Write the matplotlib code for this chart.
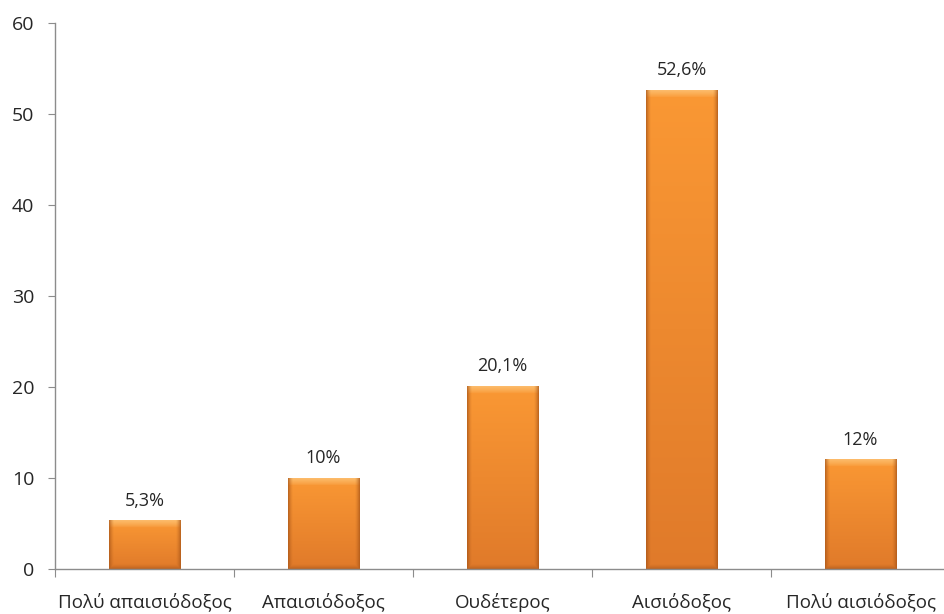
import numpy as np
import matplotlib
matplotlib.use("Agg")
import matplotlib.pyplot as plt

categories = ["Πολύ απαισιόδοξος", "Απαισιόδοξος", "Ουδέτερος", "Αισιόδοξος", "Πολύ αισιόδοξος"]
values = [5.3, 10, 20.1, 52.6, 12]
labels = ["5,3%", "10%", "20,1%", "52,6%", "12%"]

plt.rcParams["font.family"] = ["Open Sans", "DejaVu Sans"]

AXIS_GREY = "#8c8c8c"
TEXT = "#262626"
TOP = np.array([0xfa, 0x98, 0x34]) / 255
BOTTOM = np.array([0xe0, 0x7a, 0x2a]) / 255
HIGHLIGHT = np.array([0xfd, 0xca, 0x80]) / 255
SHADOW = np.array([0xa8, 0x55, 0x18]) / 255


def bar_image(h_px, w_px, bevel=7):
    """Vertical gradient with a simple bevel: light top edge, dark sides and bottom."""
    h_px = max(int(h_px), 2 * bevel + 2)
    t = np.linspace(0, 1, h_px)[:, None, None]
    img = TOP * (1 - t) + BOTTOM * t
    img = np.repeat(img, w_px, axis=1)
    ys = np.arange(h_px)[:, None]
    xs = np.arange(w_px)[None, :]
    top_w = np.clip(1 - ys / bevel, 0, 1) ** 0.8
    side = np.minimum(xs, w_px - 1 - xs)
    side_w = np.clip(1 - side / (bevel * 0.7), 0, 1) ** 1.5 * 0.7
    bot_w = np.clip(1 - (h_px - 1 - ys) / (bevel * 0.7), 0, 1) ** 1.5 * 0.6
    img = img * (1 - top_w[..., None] * 0.7) + HIGHLIGHT * top_w[..., None] * 0.7
    shade = np.maximum(side_w, bot_w)
    img = img * (1 - shade[..., None]) + SHADOW * shade[..., None]
    return np.clip(img, 0, 1)


fig = plt.figure(figsize=(9.44, 6.14), dpi=100)
ax = fig.add_axes([55 / 944, 45 / 614, 895 / 944, 546 / 614])

x = np.arange(len(categories))
bars = ax.bar(x, values, width=0.4, color="none", edgecolor="none", zorder=2)

ax.set_xlim(-0.5, len(categories) - 0.5)
ax.set_ylim(0, 60)
px_per_unit = 546 / 60

for rect, val, lab in zip(bars, values, labels):
    x0 = rect.get_x()
    w = rect.get_width()
    img = bar_image(val * px_per_unit, 72)
    ax.imshow(img, extent=(x0, x0 + w, 0, val), aspect="auto", zorder=2,
              interpolation="bilinear")
    ax.text(x0 + w / 2, val + 1.2, lab, ha="center", va="bottom",
            fontsize=13, color=TEXT)

ax.set_xlim(-0.5, len(categories) - 0.5)
ax.set_ylim(0, 60)

ax.set_yticks(np.arange(0, 61, 10))
ax.tick_params(axis="y", length=5, color=AXIS_GREY, labelsize=14,
               labelcolor=TEXT, pad=10)

ax.set_xticks(np.arange(-0.5, len(categories), 1.0))
ax.set_xticklabels([])
ax.set_xticks(x, minor=True)
ax.set_xticklabels(categories, minor=True)
ax.tick_params(axis="x", which="major", length=6, color=AXIS_GREY)
ax.tick_params(axis="x", which="minor", length=0, labelsize=13.5,
               labelcolor=TEXT, pad=17)

for side in ["top", "right"]:
    ax.spines[side].set_visible(False)
for side in ["left", "bottom"]:
    ax.spines[side].set_color(AXIS_GREY)
    ax.spines[side].set_linewidth(1)

plt.savefig("out.png", dpi=100)
